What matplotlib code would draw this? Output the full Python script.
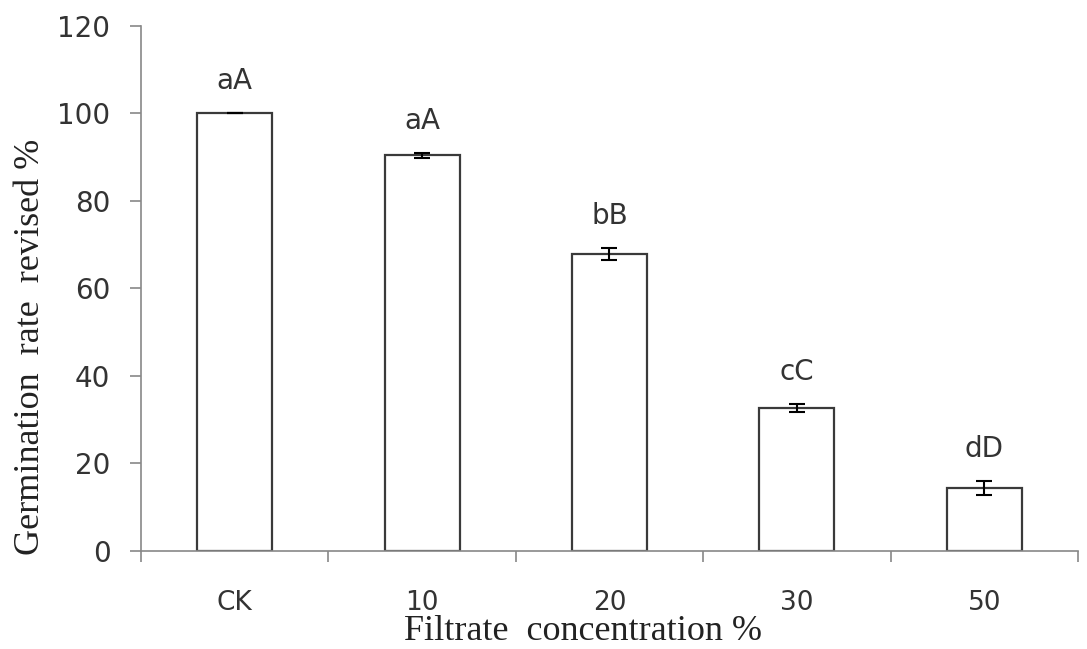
import numpy as np
import matplotlib.pyplot as plt

# germination rate by filtrate concentration
categories = ['CK', '10', '20', '30', '50']
values = [100.0, 90.4, 67.9, 32.6, 14.4]
errors = [0.0, 0.5, 1.4, 0.9, 1.6]
letters = ['aA', 'aA', 'bB', 'cC', 'dD']

fig = plt.figure(figsize=(10.87, 6.49), dpi=100)
ax = fig.add_axes([0.1297, 0.151, 0.862, 0.809])

x = np.arange(len(categories))
ax.bar(x, values, width=0.4, color='white', edgecolor='#3a3a3a', linewidth=1.6,
       yerr=errors, capsize=6, error_kw=dict(ecolor='black', elinewidth=1.5, capthick=1.5))

for xi, v, e, lab in zip(x, values, errors, letters):
    ax.annotate(lab, (xi, v + e), xytext=(0, 13), textcoords='offset points',
                ha='center', va='bottom', fontsize=20, color='#333333')

ax.set_xlim(-0.5, len(categories) - 0.5)
ax.set_ylim(0, 120)
ax.set_yticks(np.arange(0, 121, 20))
ax.set_xticks(x)
ax.set_xticklabels(categories)
ax.set_xticks(np.arange(-0.5, len(categories), 1), minor=True)

ax.tick_params(axis='y', direction='out', length=8, width=1.2, color='#888888',
               labelsize=20, labelcolor='#333333', pad=14)
ax.tick_params(axis='x', which='major', length=0, labelsize=19, labelcolor='#333333', pad=28)
ax.tick_params(axis='x', which='minor', direction='out', length=8, width=1.2, color='#888888')

for s in ['top', 'right']:
    ax.spines[s].set_visible(False)
for s in ['left', 'bottom']:
    ax.spines[s].set_color('#888888')
    ax.spines[s].set_linewidth(1.2)

ax.set_ylabel('Germination  rate  revised %', family='Liberation Serif', fontsize=26,
              color='#222222', va='center')
ax.set_xlabel('Filtrate  concentration %', family='Liberation Serif', fontsize=26,
              color='#222222', va='center')
ax.yaxis.set_label_coords(-0.118, 0.389)
ax.xaxis.set_label_coords(0.472, -0.154)

fig.savefig('out.png', dpi=100)
